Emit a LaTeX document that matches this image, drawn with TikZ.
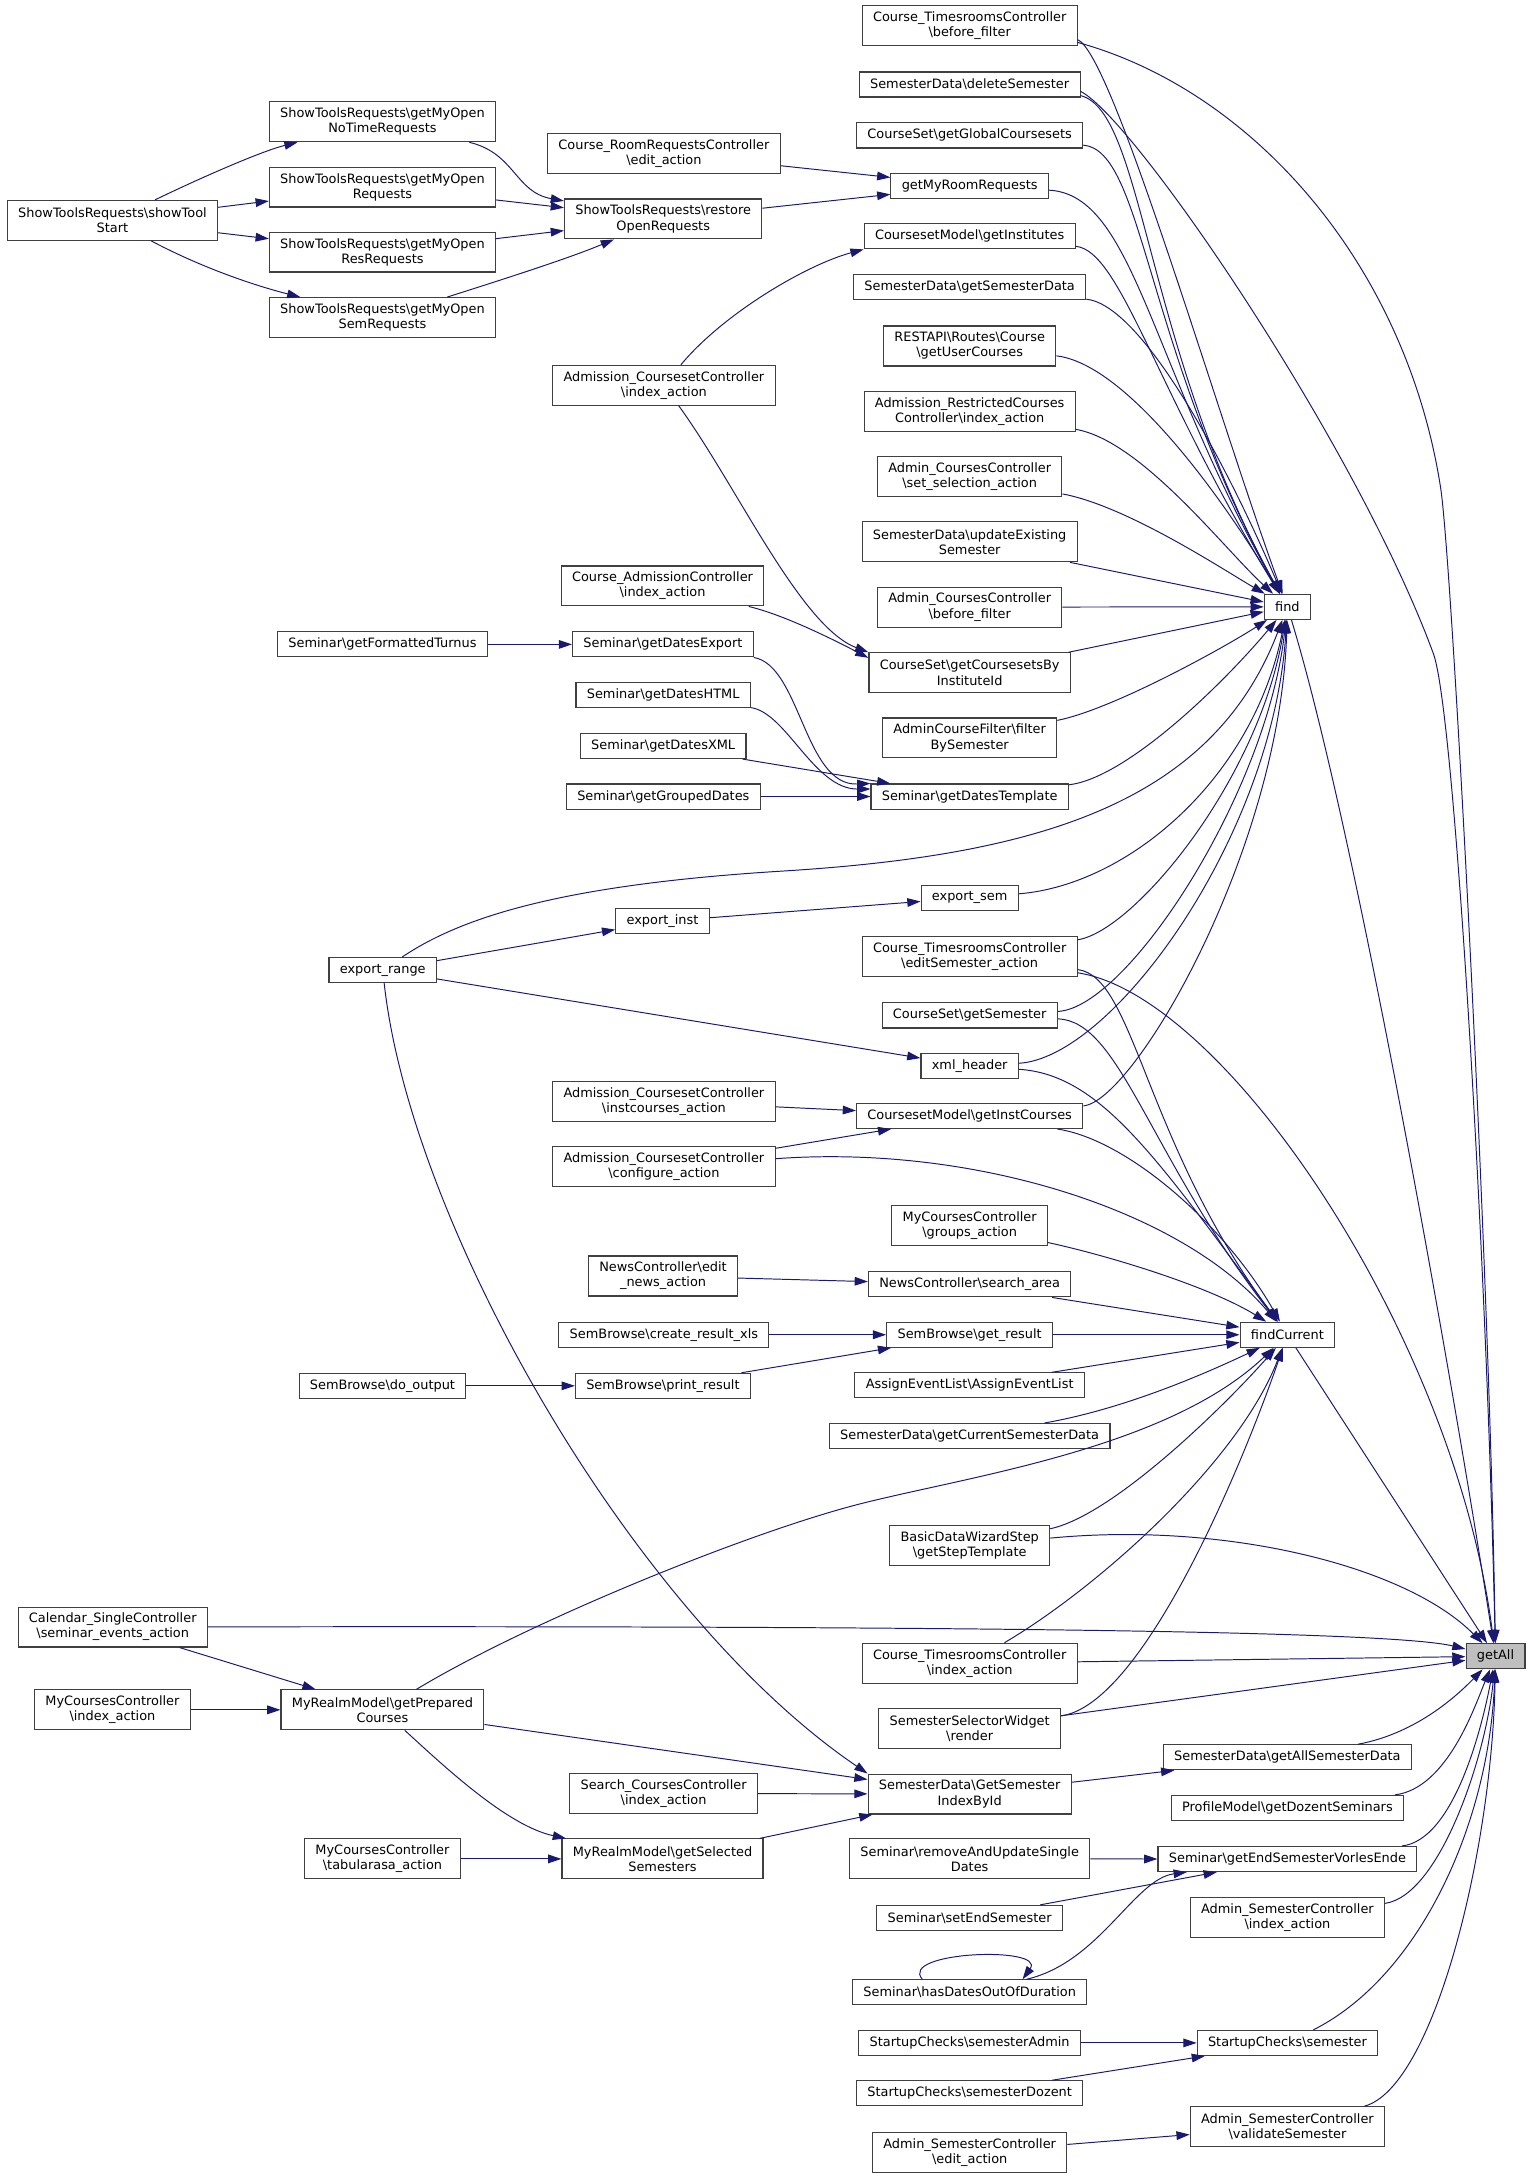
\documentclass[tikz,border=0pt]{standalone}
\usepackage{fontspec}
\setmainfont{DejaVu Sans}
\usetikzlibrary{positioning,arrows.meta}
\definecolor{edgeblue}{RGB}{25,25,112}
\definecolor{boxgray}{RGB}{64,64,64}
\definecolor{mainfill}{RGB}{191,191,191}
\newcommand{\bsl}{\textbackslash}

\begin{document}
\begin{tikzpicture}[x=1pt,y=1pt,>={Triangle[length=9.5pt,width=6.2pt]}]
 \path[use as bounding box,fill=white] (0,0) rectangle (1100,-1565.6);
 \tikzstyle{every node} = [draw=boxgray,fill=white,line width=0.8pt,inner xsep=7.8pt,inner ysep=0pt,
   minimum height=18pt,align=center,font=\fontsize{9.27}{10.8}\selectfont]
 \tikzstyle{two} = [minimum height=28.7pt]
 \tikzstyle{call} = [->,edgeblue,line width=0.7pt]
 \node[two] (stS) at (80.8,-158.3) {ShowToolsRequests\bsl{}showTool\\Start};
 \node[two] (nTR) at (274.8,-87.5) {ShowToolsRequests\bsl{}getMyOpen\\NoTimeRequests};
 \node[two] (oR) at (274.8,-134.4) {ShowToolsRequests\bsl{}getMyOpen\\Requests};
 \node[two] (rR) at (274.8,-181.1) {ShowToolsRequests\bsl{}getMyOpen\\ResRequests};
 \node[two] (sR) at (274.8,-228.2) {ShowToolsRequests\bsl{}getMyOpen\\SemRequests};
 \node[two] (roomEdit) at (477,-110.2) {Course\_RoomRequestsController\\\bsl{}edit\_action};
 \node[two] (rOR) at (476.5,-157.3) {ShowToolsRequests\bsl{}restore\\OpenRequests};
 \node[two] (acIdx) at (477,-276.8) {Admission\_CoursesetController\\\bsl{}index\_action};
 \node[two] (cadIdx) at (476,-421) {Course\_AdmissionController\\\bsl{}index\_action};
 \node (fTurn) at (274.8,-463) {Seminar\bsl{}getFormattedTurnus};
 \node (dExp) at (476.3,-463) {Seminar\bsl{}getDatesExport};
 \node (dHTML) at (476.5,-499.6) {Seminar\bsl{}getDatesHTML};
 \node (dXML) at (476.5,-536) {Seminar\bsl{}getDatesXML};
 \node (grpD) at (476.6,-572.3) {Seminar\bsl{}getGroupedDates};
 \node (eRange) at (275,-697) {export\_range};
 \node (eInst) at (476,-662) {export\_inst};
 \node[two] (instC) at (477,-791.5) {Admission\_CoursesetController\\\bsl{}instcourses\_action};
 \node[two] (confA) at (477,-838.4) {Admission\_CoursesetController\\\bsl{}configure\_action};
 \node[two] (newsEd) at (476.4,-916.8) {NewsController\bsl{}edit\\\_news\_action};
 \node (xls) at (477,-959) {SemBrowse\bsl{}create\_result\_xls};
 \node (doOut) at (274.8,-995.7) {SemBrowse\bsl{}do\_output};
 \node (printR) at (476.3,-995.7) {SemBrowse\bsl{}print\_result};
 \node[two] (cal) at (81,-1169) {Calendar\_SingleController\\\bsl{}seminar\_events\_action};
 \node[two] (mcIdx) at (80.8,-1228.5) {MyCoursesController\\\bsl{}index\_action};
 \node[two] (prep) at (274.8,-1228.5) {MyRealmModel\bsl{}getPrepared\\Courses};
 \node[two] (scIdx) at (476.8,-1288.6) {Search\_CoursesController\\\bsl{}index\_action};
 \node[two] (tabula) at (274.8,-1335.6) {MyCoursesController\\\bsl{}tabularasa\_action};
 \node[two] (selSem) at (476,-1335.6) {MyRealmModel\bsl{}getSelected\\Semesters};
 \node[two] (tbf) at (696.7,-18.5) {Course\_TimesroomsController\\\bsl{}before\_filter};
 \node (delS) at (696.7,-60.7) {SemesterData\bsl{}deleteSemester};
 \node (glob) at (696.7,-97.3) {CourseSet\bsl{}getGlobalCoursesets};
 \node (gMRR) at (696.7,-133.5) {getMyRoomRequests};
 \node (inst) at (696.7,-169.8) {CoursesetModel\bsl{}getInstitutes};
 \node (sData) at (696.7,-206.4) {SemesterData\bsl{}getSemesterData};
 \node[two] (uCour) at (696.7,-248.6) {RESTAPI\bsl{}Routes\bsl{}Course\\\bsl{}getUserCourses};
 \node[two] (arc) at (696.7,-295.4) {Admission\_RestrictedCourses\\Controller\bsl{}index\_action};
 \node[two] (selA) at (696.7,-342.4) {Admin\_CoursesController\\\bsl{}set\_selection\_action};
 \node[two] (upd) at (696.7,-389.3) {SemesterData\bsl{}updateExisting\\Semester};
 \node[two] (acbf) at (696.7,-436.2) {Admin\_CoursesController\\\bsl{}before\_filter};
 \node[two] (byInst) at (696.7,-483.4) {CourseSet\bsl{}getCoursesetsBy\\InstituteId};
 \node[two] (filt) at (696.7,-530.2) {AdminCourseFilter\bsl{}filter\\BySemester};
 \node (dTpl) at (696.7,-572.3) {Seminar\bsl{}getDatesTemplate};
 \node (eSem) at (696.7,-645) {export\_sem};
 \node[two] (editS) at (696.7,-687.2) {Course\_TimesroomsController\\\bsl{}editSemester\_action};
 \node (getSem) at (696.7,-729.6) {CourseSet\bsl{}getSemester};
 \node (xml) at (696.7,-766) {xml\_header};
 \node (instCs) at (696.7,-801.8) {CoursesetModel\bsl{}getInstCourses};
 \node[two] (groups) at (696.7,-880.5) {MyCoursesController\\\bsl{}groups\_action};
 \node (search) at (696.7,-922.8) {NewsController\bsl{}search\_area};
 \node (getRes) at (696.7,-959) {SemBrowse\bsl{}get\_result};
 \node (assign) at (696.7,-995.4) {AssignEventList\bsl{}AssignEventList};
 \node (curSD) at (696.7,-1031.8) {SemesterData\bsl{}getCurrentSemesterData};
 \node[two] (wizard) at (696.7,-1110.7) {BasicDataWizardStep\\\bsl{}getStepTemplate};
 \node[two] (tIdx) at (696.7,-1195) {Course\_TimesroomsController\\\bsl{}index\_action};
 \node[two] (widget) at (696.7,-1241.7) {SemesterSelectorWidget\\\bsl{}render};
 \node[two] (idxById) at (696.7,-1289) {SemesterData\bsl{}GetSemester\\IndexById};
 \node[two] (remove) at (696.7,-1335.6) {Seminar\bsl{}removeAndUpdateSingle\\Dates};
 \node (setEnd) at (696.7,-1378) {Seminar\bsl{}setEndSemester};
 \node (outDur) at (696.7,-1431.5) {Seminar\bsl{}hasDatesOutOfDuration};
 \node (sAdmin) at (696.7,-1467.8) {StartupChecks\bsl{}semesterAdmin};
 \node (sDoz) at (696.7,-1504) {StartupChecks\bsl{}semesterDozent};
 \node[two] (semEdit) at (696.7,-1546.4) {Admin\_SemesterController\\\bsl{}edit\_action};
 \node (find) at (925,-436) {find};
 \node (fCur) at (925,-959) {findCurrent};
 \node (allSD) at (925,-1262.6) {SemesterData\bsl{}getAllSemesterData};
 \node (dozSem) at (925,-1299) {ProfileModel\bsl{}getDozentSeminars};
 \node (endSem) at (925,-1335.7) {Seminar\bsl{}getEndSemesterVorlesEnde};
 \node[two] (asIdx) at (925,-1377.8) {Admin\_SemesterController\\\bsl{}index\_action};
 \node (sCheck) at (925,-1467.8) {StartupChecks\bsl{}semester};
 \node[two] (valSem) at (925,-1528) {Admin\_SemesterController\\\bsl{}validateSemester};
 \node[fill=mainfill] (getAll) at (1074.5,-1190) {getAll};
 \draw [call] (stS) .. controls (150,-125) and (190,-108) .. (nTR);
 \draw [call] (stS) -- (oR);
 \draw [call] (stS) -- (rR);
 \draw [call] (stS) .. controls (150,-195) and (190,-207) .. (sR);
 \draw [call] (nTR) .. controls (370,-110) and (370,-138) .. (rOR);
 \draw [call] (oR) -- (rOR);
 \draw [call] (rR) -- (rOR);
 \draw [call] (sR) .. controls (370,-198) and (410,-185) .. (rOR);
 \draw [call] (roomEdit) -- (gMRR);
 \draw [call] (rOR) -- (gMRR);
 \draw [call] (acIdx) .. controls (520,-225) and (580,-190) .. (inst.south west);
 \draw [call] (acIdx) .. controls (530,-350) and (575,-450) .. (byInst.north west);
 \draw [call] (cadIdx) .. controls (560,-441) and (590,-455) .. ([yshift=-4pt]byInst.north west);
 \draw [call] (fTurn) -- (dExp);
 \draw [call] (dExp.south east) .. controls (575,-478) and (578,-565) .. (dTpl.north west);
 \draw [call] (dHTML) .. controls (565,-512) and (585,-567) .. ([yshift=-4pt]dTpl.north west);
 \draw [call] (dXML) -- (dTpl);
 \draw [call] (grpD) -- (dTpl);
 \draw [call] (eRange) -- (eInst);
 \draw [call] (eInst) -- (eSem);
 \draw [call] (eRange) -- (xml);
 \draw [call] (eRange) .. controls (295,-880) and (455,-1160) .. (idxById.north west);
 \draw [call] (instC) -- (instCs);
 \draw [call] (confA) -- (instCs);
 \draw [call] (newsEd) -- (search);
 \draw [call] (xls) -- (getRes);
 \draw [call] (doOut) -- (printR);
 \draw [call] (printR) -- (getRes);
 \draw [call] (cal) -- (prep);
 \draw [call] (mcIdx) -- (prep);
 \draw [call] (prep) -- (idxById);
 \draw [call] (prep) .. controls (320,-1270) and (365,-1312) .. (selSem);
 \draw [call] (tabula) -- (selSem);
 \draw [call] (scIdx) -- (idxById);
 \draw [call] (selSem) -- (idxById);
 \draw [call] (idxById) -- (allSD);
 \draw [call] (remove) -- (endSem);
 \draw [call] (setEnd) -- (endSem);
 \draw [call] (outDur) .. controls (790,-1410) and (815,-1350) .. (endSem);
 \draw [call] ([xshift=-34pt]outDur.north) .. controls (645,-1402) and (752,-1398) .. ([xshift=38pt]outDur.north);
 \draw [call] (sAdmin) -- (sCheck);
 \draw [call] (sDoz) -- (sCheck);
 \draw [call] (semEdit) -- (valSem);
 \draw [call] ([yshift=-10pt]tbf.east) .. controls (800,-40) and (875,-300) .. (find);
 \draw [call] ([yshift=-8pt]delS.east) .. controls (822,-80) and (822,-250) .. (find);
 \draw [call] (glob) .. controls (822,-108) and (822,-250) .. (find);
 \draw [call] (gMRR) .. controls (815,-140) and (825,-260) .. (find);
 \draw [call] (inst) .. controls (805,-180) and (830,-280) .. (find);
 \draw [call] (sData) .. controls (820,-219) and (880,-330) .. (find);
 \draw [call] (uCour) .. controls (810,-261.5) and (880,-360) .. (find);
 \draw [call] (arc) .. controls (820,-316.6) and (880,-395) .. (find);
 \draw [call] (selA) .. controls (810,-363.6) and (880,-410) .. (find);
 \draw [call] (upd) -- (find);
 \draw [call] (acbf) -- (find);
 \draw [call] (byInst) -- (find);
 \draw [call] (filt) .. controls (800,-509.5) and (880,-465) .. (find);
 \draw [call] (dTpl) .. controls (810,-558.9) and (880,-490) .. (find);
 \draw [call] (eRange) .. controls (330,-660) and (400,-636) .. (560,-626) .. controls (740,-615) and (870,-580) .. (find);
 \draw [call] (eSem) .. controls (810,-636) and (900,-560) .. (find);
 \draw [call] (editS) .. controls (815,-668.9) and (905,-560) .. (find);
 \draw [call] (getSem) .. controls (810,-724.4) and (910,-570) .. (find);
 \draw [call] (xml) .. controls (800,-760) and (915,-600) .. (find);
 \draw [call] (instCs) .. controls (815,-791.3) and (920,-610) .. (find);
 \draw [call] (editS) .. controls (815,-701.6) and (822,-820) .. (fCur);
 \draw [call] (getSem) .. controls (805,-733.7) and (825,-830) .. (fCur);
 \draw [call] (xml) .. controls (790,-772) and (830,-830) .. (fCur);
 \draw [call] (instCs) .. controls (810,-818.7) and (880,-880) .. (fCur);
 \draw [call] (confA) .. controls (700,-822) and (850,-870) .. (fCur);
 \draw [call] (groups) .. controls (800,-903) and (870,-925) .. (fCur);
 \draw [call] (search) -- (fCur);
 \draw [call] (getRes) -- (fCur);
 \draw [call] (assign) -- (fCur);
 \draw [call] (curSD) .. controls (810,-1012) and (870,-985) .. (fCur);
 \draw [call] (prep) .. controls (380,-1165) and (540,-1100) .. (620,-1080) .. controls (700,-1060) and (840,-1040) .. (fCur);
 \draw [call] (wizard) .. controls (800,-1088.7) and (880,-1010) .. (fCur);
 \draw [call] (tIdx) .. controls (790,-1140) and (890,-1050) .. (fCur);
 \draw [call] (widget) .. controls (820,-1225) and (890,-1060) .. (fCur);
 \draw [call] ([yshift=-12pt]tbf.east) .. controls (900,-65) and (1010,-190) .. (1035,-350) .. controls (1043,-400) and (1070,-900) .. (getAll);
 \draw [call] ([yshift=-5pt]delS.east) .. controls (815,-85) and (975,-320) .. (1030,-470) .. controls (1045,-512) and (1068,-900) .. (getAll);
 \draw [call] (find) .. controls (975,-600) and (1045,-1000) .. (getAll);
 \draw [call] (editS) .. controls (880,-715) and (1045,-960) .. (getAll);
 \draw [call] (fCur) -- (getAll);
 \draw [call] (wizard) .. controls (880,-1093) and (1010,-1125) .. (getAll);
 \draw [call] (cal) .. controls (700,-1168) and (1000,-1172) .. (getAll);
 \draw [call] (tIdx) -- (getAll);
 \draw [call] (widget) -- (getAll);
 \draw [call] (allSD) .. controls (1020,-1245) and (1050,-1215) .. (getAll);
 \draw [call] (dozSem) .. controls (1040,-1285) and (1060,-1225) .. (getAll);
 \draw [call] (endSem) .. controls (1045,-1322) and (1065,-1240) .. (getAll);
 \draw [call] (asIdx) .. controls (1035,-1361.7) and (1068,-1260) .. (getAll);
 \draw [call] (sCheck) .. controls (1020,-1420) and (1070,-1310) .. (getAll);
 \draw [call] (valSem) .. controls (1030,-1500) and (1072,-1330) .. (getAll);
\end{tikzpicture}
\end{document}
